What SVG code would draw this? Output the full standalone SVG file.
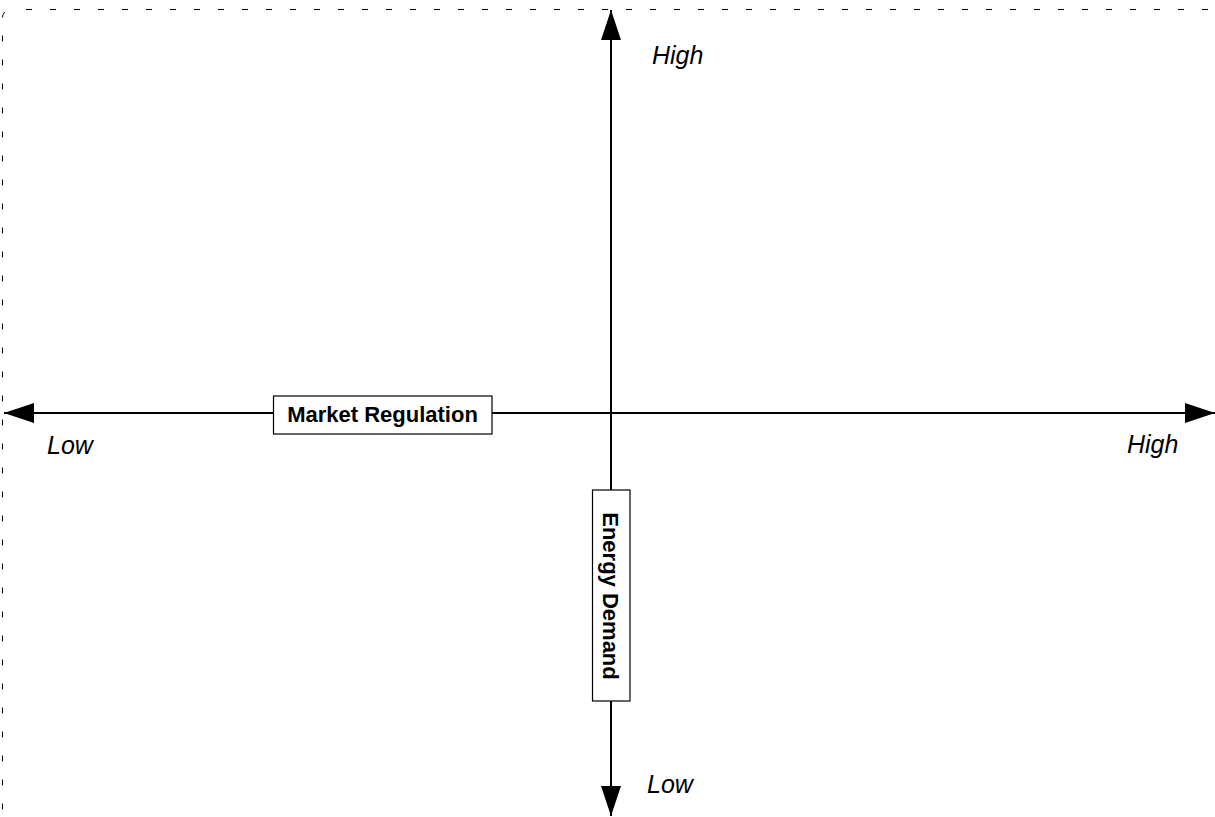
<svg xmlns="http://www.w3.org/2000/svg" width="1215" height="817" viewBox="0 0 1215 817">
<style>
.frame{fill:none;stroke:#000;stroke-width:1;stroke-dasharray:6 18;stroke-dashoffset:8.5}
.axis{fill:none;stroke:#000;stroke-width:2}
.box{fill:#fff;stroke:#000;stroke-width:1.2}
.bl{font-family:"Liberation Sans",Arial,sans-serif;font-weight:bold;font-size:22px;fill:#000;text-anchor:middle}
.it{font-family:"Liberation Sans",Arial,sans-serif;font-style:italic;font-size:25px;fill:#000}
</style>
<defs>
<marker id="ah" markerUnits="userSpaceOnUse" markerWidth="32" markerHeight="22" refX="30" refY="10" orient="auto-start-reverse">
<path d="M0,0 L30,10 L0,20 z" fill="#000"/>
</marker>
</defs>
<rect id="frame" class="frame" x="2.5" y="9.5" width="1240" height="809" rx="8" ry="8"/>
<g id="connectors">
<line class="axis" x1="4" y1="413" x2="1215" y2="413" marker-start="url(#ah)" marker-end="url(#ah)"/>
<line class="axis" x1="611" y1="10" x2="611" y2="816" marker-start="url(#ah)" marker-end="url(#ah)"/>
</g>
<g id="market-regulation">
<rect class="box" x="273.5" y="396" width="218.5" height="38"/>
<text class="bl" x="382.5" y="422">Market Regulation</text>
</g>
<g id="energy-demand">
<rect class="box" x="592.5" y="490" width="37.5" height="211"/>
<text class="bl" transform="translate(603,596) rotate(90)">Energy Demand</text>
</g>
<g id="labels">
<text class="it" x="652" y="64">High</text>
<text class="it" x="647" y="793">Low</text>
<text class="it" x="1127" y="453">High</text>
<text class="it" x="47" y="454">Low</text>
</g>
</svg>
